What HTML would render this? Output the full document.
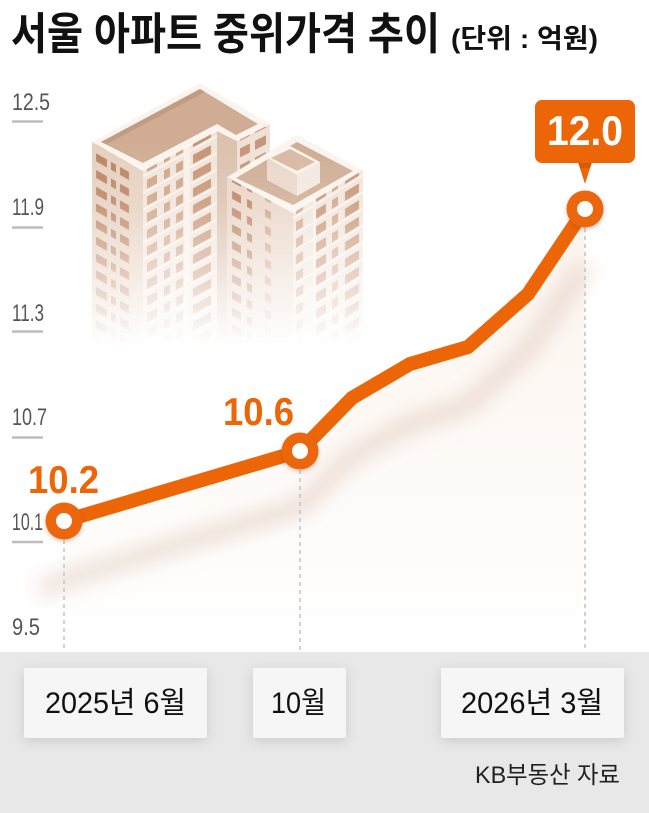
<!DOCTYPE html>
<html><head><meta charset="utf-8"><style>
html,body{margin:0;padding:0;background:#fff;}
svg{display:block;}
</style></head><body>
<svg width="649" height="813" viewBox="0 0 649 813" xmlns="http://www.w3.org/2000/svg">
<defs>
  <filter id="blur" x="-20%" y="-50%" width="140%" height="200%"><feGaussianBlur stdDeviation="10"/></filter>
  <filter id="bshadow" x="-20%" y="-30%" width="140%" height="170%"><feDropShadow dx="0" dy="3" stdDeviation="6" flood-color="#000" flood-opacity="0.13"/></filter>
  <filter id="cshadow" x="-50%" y="-50%" width="200%" height="200%"><feDropShadow dx="0" dy="2" stdDeviation="2" flood-color="#7a3000" flood-opacity="0.25"/></filter>
  <linearGradient id="area" x1="0" y1="200" x2="0" y2="652" gradientUnits="userSpaceOnUse">
    <stop offset="0" stop-color="#fcf3ec"/><stop offset="0.6" stop-color="#fefaf7"/><stop offset="1" stop-color="#ffffff"/>
  </linearGradient>
  <linearGradient id="fadeG" x1="0" y1="140" x2="0" y2="345" gradientUnits="userSpaceOnUse">
    <stop offset="0" stop-color="#fff"/><stop offset="0.3" stop-color="#fff" stop-opacity="0.85"/><stop offset="1" stop-color="#fff" stop-opacity="0"/>
  </linearGradient>
  <mask id="fade" maskUnits="userSpaceOnUse" x="0" y="0" width="649" height="813">
    <rect x="0" y="0" width="649" height="813" fill="url(#fadeG)"/>
  </mask>
  <pattern id="winL" width="51" height="16.7" patternUnits="userSpaceOnUse" y="6">
    <rect x="4" y="3" width="11" height="8" fill="#ba8260"/>
    <rect x="19" y="3" width="5" height="8" fill="#ba8260"/>
    <rect x="28" y="3" width="9" height="8" fill="#ba8260"/>
  </pattern>
  <pattern id="winF" width="74" height="16.7" patternUnits="userSpaceOnUse" y="8">
    <rect x="4" y="3" width="10" height="9" fill="#cfa385"/>
    <rect x="21" y="3" width="6" height="9" fill="#cfa385"/>
    <rect x="33" y="3" width="7" height="9" fill="#cfa385"/>
    <rect x="50" y="3" width="18" height="9" fill="#c79474"/>
    <rect x="0" y="13" width="74" height="2" fill="#fbf3ed"/>
  </pattern>
  <pattern id="winW" width="33" height="16.7" patternUnits="userSpaceOnUse" y="6">
    <rect x="3" y="3" width="10" height="9" fill="#c59579"/>
    <rect x="18" y="3" width="11" height="9" fill="#c59579"/>
  </pattern>
  <pattern id="winR1" width="66" height="16.7" patternUnits="userSpaceOnUse" y="8">
    <rect x="5" y="3" width="9" height="8" fill="#ba8260"/>
    <rect x="20" y="3" width="5" height="8" fill="#ba8260"/>
    <rect x="38" y="3" width="6" height="8" fill="#cfa385"/>
  </pattern>
  <pattern id="winR2" width="70" height="16.7" patternUnits="userSpaceOnUse" y="8">
    <rect x="3" y="3" width="7" height="9" fill="#cfa385"/>
    <rect x="23" y="3" width="10" height="9" fill="#c79474"/>
    <rect x="39" y="3" width="6" height="9" fill="#cfa385"/>
    <rect x="52" y="3" width="14" height="9" fill="#c79474"/>
    <rect x="0" y="13" width="70" height="2" fill="#fbf3ed"/>
  </pattern>
</defs>

<!-- Title -->
<text x="11" y="49" font-family="'Liberation Sans','Noto Sans CJK KR',sans-serif" font-weight="700" font-size="44" fill="#111" textLength="429" lengthAdjust="spacingAndGlyphs">서울 아파트 중위가격 추이</text>
<text x="451" y="48" font-family="'Liberation Sans','Noto Sans CJK KR',sans-serif" font-weight="700" font-size="27" fill="#111" textLength="147" lengthAdjust="spacingAndGlyphs">(단위 : 억원)</text>

<!-- Buildings -->
<g mask="url(#fade)">
  <g transform="translate(92,142) skewY(29.6)">
    <rect x="0" y="0" width="51" height="230" fill="#e6d0bf"/>
    <rect x="0" y="0" width="51" height="230" fill="url(#winL)"/>
  </g>
  <g transform="translate(143,171) skewY(-28.4)">
    <rect x="0" y="0" width="74" height="220" fill="#f1e4da"/>
    <rect x="0" y="0" width="74" height="220" fill="url(#winF)"/>
    <rect x="41" y="0" width="6" height="220" fill="#f8efe8"/>
  </g>
  <polygon points="217,131 237,141 237,360 217,350" fill="#dcc1ad"/>
  <g transform="translate(237,141) skewY(-27)">
    <rect x="0" y="0" width="33" height="200" fill="#efe1d6"/>
    <rect x="0" y="0" width="33" height="200" fill="url(#winW)"/>
  </g>
  <polygon points="92,142 200,83 270,124 237,141 217,130 143,171" fill="#fbf4ee"/>
  <polygon points="101,142 200,89 258,124 236,135 217,124 143,163" fill="#cfac93"/>
  <polygon points="101,142 200,89 205,92 107,144" fill="#c09c83"/>

  <g transform="translate(227,177) skewY(28.6)">
    <rect x="0" y="0" width="66" height="200" fill="#e9d5c6"/>
    <rect x="0" y="0" width="66" height="200" fill="url(#winR1)"/>
  </g>
  <g transform="translate(293,213) skewY(-31.6)">
    <rect x="0" y="0" width="70" height="200" fill="#f1e4da"/>
    <rect x="0" y="0" width="70" height="200" fill="url(#winR2)"/>
    <rect x="20" y="0" width="3" height="200" fill="#f8efe8"/>
  </g>
  <polygon points="227,177 297,135 363,170 293,213" fill="#fbf4ee"/>
  <polygon points="236,178 297,142 353,171 293,205" fill="#cfac93"/>
  <polygon points="267,158 290,146 320,162 297,175" fill="#fbf4ee"/>
  <polygon points="271,158 290,149 315,162 297,171" fill="#d8b8a1"/>
  <polygon points="267,158 297,175 297,196 267,180" fill="#ead7c9"/>
  <polygon points="297,175 320,162 320,183 297,196" fill="#f4e8df"/>
</g>

<!-- area under line -->
<polygon points="64,521 300,451 352,398 410,364 468,347 528,294 585,209 585,652 64,652" fill="url(#area)"/>
<!-- line shadow -->
<polyline points="40,590 64,580 300,507 352,456 410,424 468,405 528,350 585,266" fill="none" stroke="#dcc5b6" stroke-width="16" stroke-opacity="0.6" filter="url(#blur)"/>

<!-- Y axis -->
<g font-family="'Liberation Sans',sans-serif" font-size="24" fill="#555">
  <text x="12" y="110" textLength="38" lengthAdjust="spacingAndGlyphs">12.5</text>
  <text x="12" y="215" textLength="32" lengthAdjust="spacingAndGlyphs">11.9</text>
  <text x="12" y="321" textLength="32" lengthAdjust="spacingAndGlyphs">11.3</text>
  <text x="12" y="425" textLength="35" lengthAdjust="spacingAndGlyphs">10.7</text>
  <text x="12" y="530" textLength="31" lengthAdjust="spacingAndGlyphs">10.1</text>
  <text x="12" y="635" textLength="28" lengthAdjust="spacingAndGlyphs">9.5</text>
</g>
<g stroke="#bdbdbd" stroke-width="2.5">
  <line x1="12" y1="121.5" x2="43" y2="121.5"/>
  <line x1="12" y1="227.5" x2="43" y2="227.5"/>
  <line x1="12" y1="331.5" x2="43" y2="331.5"/>
  <line x1="12" y1="437.5" x2="43" y2="437.5"/>
  <line x1="12" y1="542" x2="43" y2="542"/>
</g>

<!-- dashed guides -->
<g stroke="#c4c4c4" stroke-width="1.5" stroke-dasharray="4 4">
  <line x1="64" y1="540" x2="64" y2="652"/>
  <line x1="300" y1="470" x2="300" y2="652"/>
  <line x1="585" y1="228" x2="585" y2="652"/>
</g>

<!-- data line -->
<polyline points="64,521 300,451 352,398 410,364 468,347 528,294 585,209" fill="none" stroke="#ec6608" stroke-width="14" stroke-linejoin="miter"/>
<g filter="url(#cshadow)">
  <circle cx="64" cy="521" r="18.5" fill="#ec6608"/>
  <circle cx="300" cy="451" r="18.5" fill="#ec6608"/>
  <circle cx="585" cy="209" r="18.5" fill="#ec6608"/>
</g>
<circle cx="64" cy="521" r="8" fill="#fff"/>
<circle cx="300" cy="451" r="8" fill="#fff"/>
<circle cx="585" cy="209" r="8" fill="#fff"/>

<!-- data labels -->
<text x="28" y="493" font-family="'Liberation Sans',sans-serif" font-weight="700" font-size="39" fill="#ec6608" textLength="71" lengthAdjust="spacingAndGlyphs">10.2</text>
<text x="223" y="425" font-family="'Liberation Sans',sans-serif" font-weight="700" font-size="39" fill="#ec6608" textLength="71" lengthAdjust="spacingAndGlyphs">10.6</text>

<!-- callout -->
<rect x="535" y="100" width="100" height="63" rx="7" fill="#ec6608"/>
<polygon points="578,162 592,162 585,184" fill="#ec6608"/>
<polygon points="578,163 592,163 590,168 580,168" fill="#c95300" opacity="0.6"/>
<text x="547" y="145" font-family="'Liberation Sans',sans-serif" font-weight="700" font-size="42" fill="#fff" textLength="76" lengthAdjust="spacingAndGlyphs">12.0</text>

<!-- bottom band -->
<rect x="0" y="652" width="649" height="161" fill="#e8e8e8"/>
<g filter="url(#bshadow)">
  <rect x="24" y="668" width="183" height="70" rx="2" fill="#f6f6f6"/>
  <rect x="253" y="668" width="93" height="70" rx="2" fill="#f6f6f6"/>
  <rect x="441" y="668" width="183" height="70" rx="2" fill="#f6f6f6"/>
</g>
<g font-family="'Liberation Sans','Noto Sans CJK KR',sans-serif" font-size="30" fill="#111">
  <text x="45" y="713" textLength="141" lengthAdjust="spacingAndGlyphs">2025년 6월</text>
  <text x="271" y="713" textLength="55" lengthAdjust="spacingAndGlyphs">10월</text>
  <text x="461" y="713" textLength="142" lengthAdjust="spacingAndGlyphs">2026년 3월</text>
</g>
<text x="475" y="783" font-family="'Liberation Sans','Noto Sans CJK KR',sans-serif" font-size="24" fill="#222" textLength="145" lengthAdjust="spacingAndGlyphs">KB부동산 자료</text>
</svg>
</body></html>
